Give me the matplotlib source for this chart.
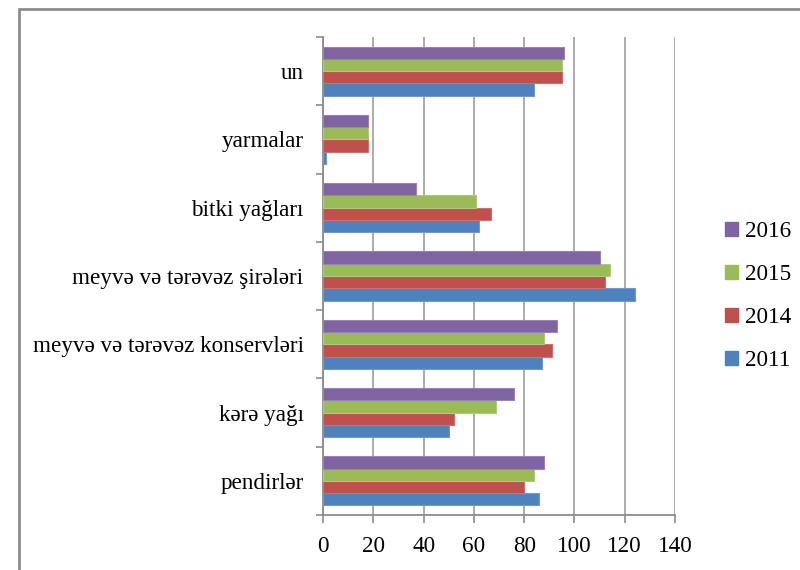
import matplotlib.pyplot as plt
import matplotlib.patches as mpatches
import numpy as np

plt.rcParams['font.family'] = ['Liberation Serif', 'DejaVu Serif']

# categories bottom -> top (Excel order)
categories = ['pendirlər', 'kərə yağı', 'meyvə və tərəvəz konservləri',
              'meyvə və tərəvəz şirələri', 'bitki yağları', 'yarmalar', 'un']
years = ['2011', '2014', '2015', '2016']
v2011 = [86, 50, 87, 124, 62, 1, 84]
v2014 = [80, 52, 91, 112, 67, 18, 95]
v2015 = [84, 69, 88, 114, 61, 18, 95]
v2016 = [88, 76, 93, 110, 37, 18, 96]
xticks = [0, 20, 40, 60, 80, 100, 120, 140]

series = [v2011, v2014, v2015, v2016]
colors = ['#4F81BD', '#C0504D', '#9BBB59', '#8064A2']
edges = ['#6f9ad0', '#d06f6c', '#afcb78', '#9a82b8']

fs = 16.7
fig = plt.figure(figsize=(8, 5.7), dpi=100)
ax = fig.add_axes([323/800, 1 - 515/570, (675-323)/800, (515-37)/570])

y = np.arange(len(categories))
h = 0.18
for j, vals in enumerate(series):
    ax.barh(y + (j - 1.5) * h, vals, height=h, color=colors[j],
            edgecolor=edges[j], linewidth=0.8, zorder=3, label=years[j])

ax.set_xlim(0, 140)
ax.set_ylim(-0.5, len(categories) - 0.5)
ax.set_xticks(xticks)
ax.set_xticklabels([str(t) for t in xticks], fontsize=fs)
ax.set_yticks(np.arange(len(categories) + 1) - 0.5, minor=True)
ax.set_yticks(y)
ax.set_yticklabels(categories, fontsize=fs)
ax.tick_params(axis='y', which='major', length=0, pad=14)
ax.tick_params(axis='y', which='minor', length=5, color='#8c8c8c', width=1.2)
ax.tick_params(axis='x', length=6, color='#8c8c8c', width=1.2, pad=9)

ax.grid(axis='x', color='#a6a6a6', linewidth=1.3, zorder=0)
for s in ['top', 'right']:
    ax.spines[s].set_visible(False)
for s in ['left', 'bottom']:
    ax.spines[s].set_color('#8c8c8c')
    ax.spines[s].set_linewidth(1.3)

handles = [mpatches.Patch(color=colors[j]) for j in range(4)][::-1]
fig.legend(handles, years[::-1], loc='upper left',
           bbox_to_anchor=(704/800, 1 - 200/570), frameon=False,
           fontsize=fs, handlelength=0.55, handleheight=0.55,
           handletextpad=0.3, labelspacing=0.95)

border = mpatches.Rectangle((19/800, -0.1), 1.2, 1.1 - 9/570,
                            transform=fig.transFigure, fill=False,
                            edgecolor='#8c8c8c', linewidth=2)
fig.add_artist(border)

fig.savefig('out.png', dpi=100)
